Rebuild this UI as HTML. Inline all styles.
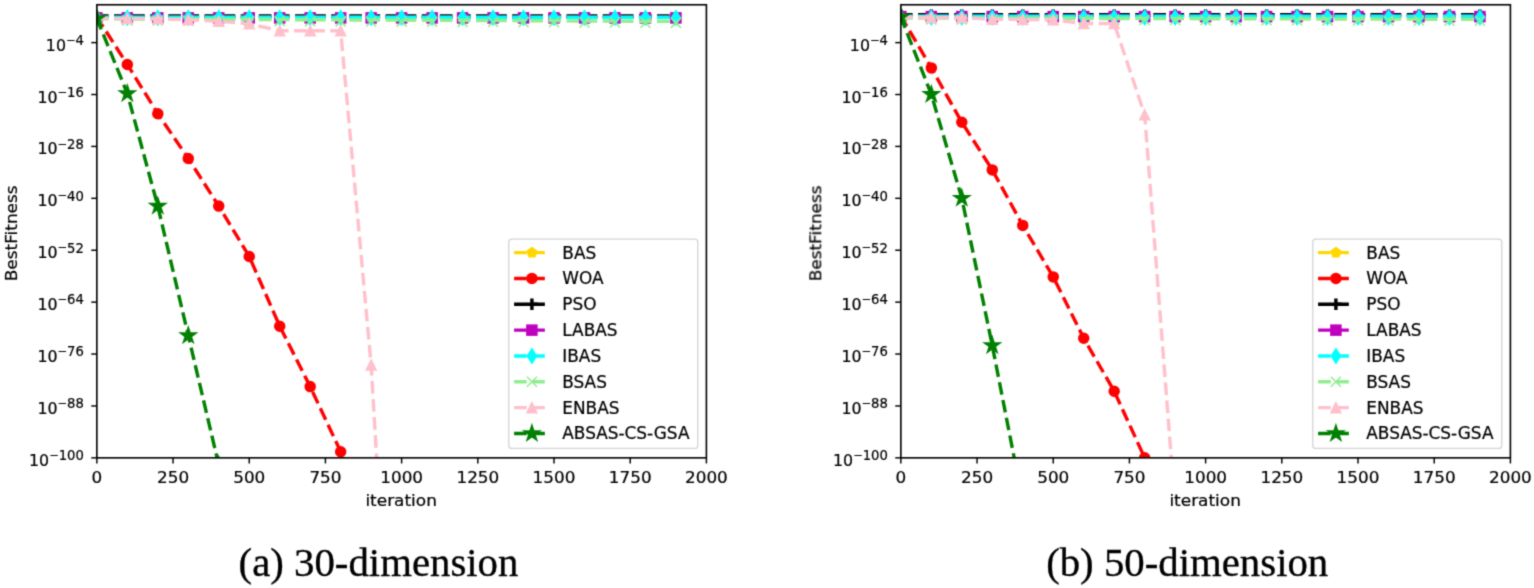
<!DOCTYPE html>
<html><head><meta charset="utf-8"><title>BestFitness convergence</title>
<style>html,body{margin:0;padding:0;background:#fff;} svg{display:block;} .t{stroke:#000;stroke-width:0.22px;} .c{stroke:#000;stroke-width:0.35px;}</style></head>
<body>
<svg width="1534" height="588" viewBox="0 0 1534 588">
<defs><filter id="soft" filterUnits="userSpaceOnUse" x="0" y="0" width="1534" height="588" color-interpolation-filters="sRGB"><feConvolveMatrix order="3" kernelMatrix="1 4 1 4 16 4 1 4 1" edgeMode="duplicate"/></filter></defs>
<rect width="1534" height="588" fill="#fff"/>
<g filter="url(#soft)">
<clipPath id="clipL"><rect x="96.85" y="4.76" width="609.55" height="453.09"/></clipPath>
<g clip-path="url(#clipL)">
<polyline points="96.85,17.40 127.33,17.40 157.80,17.40 188.28,17.40 218.76,17.40 249.24,17.40 279.72,17.40 310.19,17.40 340.67,17.40 371.15,17.40 401.62,17.40 432.10,17.40 462.58,17.40 493.06,17.40 523.53,17.40 554.01,17.40 584.49,17.40 614.97,17.40 645.45,17.40 675.92,17.40" fill="none" stroke="#FFD700" stroke-width="3.415" stroke-dasharray="12.64 5.46" stroke-dashoffset="0.9" stroke-linejoin="round"/>
<polygon points="96.85,12.80 101.61,16.25 99.79,21.85 93.91,21.85 92.09,16.25" fill="#FFD700" stroke="#FFD700" stroke-width="1.5" stroke-linejoin="miter"/>
<polygon points="127.33,12.80 132.08,16.25 130.27,21.85 124.39,21.85 122.57,16.25" fill="#FFD700" stroke="#FFD700" stroke-width="1.5" stroke-linejoin="miter"/>
<polygon points="157.80,12.80 162.56,16.25 160.74,21.85 154.87,21.85 153.05,16.25" fill="#FFD700" stroke="#FFD700" stroke-width="1.5" stroke-linejoin="miter"/>
<polygon points="188.28,12.80 193.04,16.25 191.22,21.85 185.34,21.85 183.53,16.25" fill="#FFD700" stroke="#FFD700" stroke-width="1.5" stroke-linejoin="miter"/>
<polygon points="218.76,12.80 223.52,16.25 221.70,21.85 215.82,21.85 214.00,16.25" fill="#FFD700" stroke="#FFD700" stroke-width="1.5" stroke-linejoin="miter"/>
<polygon points="249.24,12.80 253.99,16.25 252.18,21.85 246.30,21.85 244.48,16.25" fill="#FFD700" stroke="#FFD700" stroke-width="1.5" stroke-linejoin="miter"/>
<polygon points="279.72,12.80 284.47,16.25 282.65,21.85 276.78,21.85 274.96,16.25" fill="#FFD700" stroke="#FFD700" stroke-width="1.5" stroke-linejoin="miter"/>
<polygon points="310.19,12.80 314.95,16.25 313.13,21.85 307.25,21.85 305.44,16.25" fill="#FFD700" stroke="#FFD700" stroke-width="1.5" stroke-linejoin="miter"/>
<polygon points="340.67,12.80 345.43,16.25 343.61,21.85 337.73,21.85 335.91,16.25" fill="#FFD700" stroke="#FFD700" stroke-width="1.5" stroke-linejoin="miter"/>
<polygon points="371.15,12.80 375.90,16.25 374.09,21.85 368.21,21.85 366.39,16.25" fill="#FFD700" stroke="#FFD700" stroke-width="1.5" stroke-linejoin="miter"/>
<polygon points="401.62,12.80 406.38,16.25 404.56,21.85 398.69,21.85 396.87,16.25" fill="#FFD700" stroke="#FFD700" stroke-width="1.5" stroke-linejoin="miter"/>
<polygon points="432.10,12.80 436.86,16.25 435.04,21.85 429.16,21.85 427.35,16.25" fill="#FFD700" stroke="#FFD700" stroke-width="1.5" stroke-linejoin="miter"/>
<polygon points="462.58,12.80 467.34,16.25 465.52,21.85 459.64,21.85 457.82,16.25" fill="#FFD700" stroke="#FFD700" stroke-width="1.5" stroke-linejoin="miter"/>
<polygon points="493.06,12.80 497.81,16.25 496.00,21.85 490.12,21.85 488.30,16.25" fill="#FFD700" stroke="#FFD700" stroke-width="1.5" stroke-linejoin="miter"/>
<polygon points="523.53,12.80 528.29,16.25 526.47,21.85 520.60,21.85 518.78,16.25" fill="#FFD700" stroke="#FFD700" stroke-width="1.5" stroke-linejoin="miter"/>
<polygon points="554.01,12.80 558.77,16.25 556.95,21.85 551.07,21.85 549.26,16.25" fill="#FFD700" stroke="#FFD700" stroke-width="1.5" stroke-linejoin="miter"/>
<polygon points="584.49,12.80 589.25,16.25 587.43,21.85 581.55,21.85 579.73,16.25" fill="#FFD700" stroke="#FFD700" stroke-width="1.5" stroke-linejoin="miter"/>
<polygon points="614.97,12.80 619.72,16.25 617.91,21.85 612.03,21.85 610.21,16.25" fill="#FFD700" stroke="#FFD700" stroke-width="1.5" stroke-linejoin="miter"/>
<polygon points="645.45,12.80 650.20,16.25 648.38,21.85 642.51,21.85 640.69,16.25" fill="#FFD700" stroke="#FFD700" stroke-width="1.5" stroke-linejoin="miter"/>
<polygon points="675.92,12.80 680.68,16.25 678.86,21.85 672.98,21.85 671.17,16.25" fill="#FFD700" stroke="#FFD700" stroke-width="1.5" stroke-linejoin="miter"/>
<polyline points="96.85,17.00 127.33,64.50 157.80,113.70 188.28,158.50 218.76,206.10 249.24,256.50 279.72,326.20 310.19,386.60 340.67,451.70 371.15,520.00" fill="none" stroke="#FF0000" stroke-width="3.415" stroke-dasharray="12.64 5.46" stroke-dashoffset="0.9" stroke-linejoin="round"/>
<circle cx="96.85" cy="17.00" r="5.00" fill="#FF0000" stroke="#FF0000" stroke-width="1.5" stroke-linejoin="miter"/>
<circle cx="127.33" cy="64.50" r="5.00" fill="#FF0000" stroke="#FF0000" stroke-width="1.5" stroke-linejoin="miter"/>
<circle cx="157.80" cy="113.70" r="5.00" fill="#FF0000" stroke="#FF0000" stroke-width="1.5" stroke-linejoin="miter"/>
<circle cx="188.28" cy="158.50" r="5.00" fill="#FF0000" stroke="#FF0000" stroke-width="1.5" stroke-linejoin="miter"/>
<circle cx="218.76" cy="206.10" r="5.00" fill="#FF0000" stroke="#FF0000" stroke-width="1.5" stroke-linejoin="miter"/>
<circle cx="249.24" cy="256.50" r="5.00" fill="#FF0000" stroke="#FF0000" stroke-width="1.5" stroke-linejoin="miter"/>
<circle cx="279.72" cy="326.20" r="5.00" fill="#FF0000" stroke="#FF0000" stroke-width="1.5" stroke-linejoin="miter"/>
<circle cx="310.19" cy="386.60" r="5.00" fill="#FF0000" stroke="#FF0000" stroke-width="1.5" stroke-linejoin="miter"/>
<circle cx="340.67" cy="451.70" r="5.00" fill="#FF0000" stroke="#FF0000" stroke-width="1.5" stroke-linejoin="miter"/>
<circle cx="371.15" cy="520.00" r="5.00" fill="#FF0000" stroke="#FF0000" stroke-width="1.5" stroke-linejoin="miter"/>
<polyline points="96.85,15.90 127.33,15.90 157.80,15.90 188.28,15.90 218.76,15.90 249.24,15.90 279.72,15.90 310.19,15.90 340.67,15.90 371.15,15.90 401.62,15.90 432.10,15.90 462.58,15.90 493.06,15.90 523.53,15.90 554.01,15.90 584.49,15.90 614.97,15.90 645.45,15.90 675.92,15.90" fill="none" stroke="#000000" stroke-width="3.415" stroke-dasharray="12.64 5.46" stroke-dashoffset="0.9" stroke-linejoin="round"/>
<polyline points="96.85,17.40 127.33,17.40 157.80,17.40 188.28,17.40 218.76,17.40 249.24,17.40 279.72,17.40 310.19,17.40 340.67,17.40 371.15,17.40 401.62,17.40 432.10,17.40 462.58,17.40 493.06,17.40 523.53,17.40 554.01,17.40 584.49,17.40 614.97,17.40 645.45,17.40 675.92,17.40" fill="none" stroke="#BF00BF" stroke-width="3.415" stroke-dasharray="12.64 5.46" stroke-dashoffset="0.9" stroke-linejoin="round"/>
<rect x="91.85" y="12.90" width="10.00" height="10.00" fill="#BF00BF" stroke="#BF00BF" stroke-width="1.5" stroke-linejoin="miter"/>
<rect x="122.33" y="12.90" width="10.00" height="10.00" fill="#BF00BF" stroke="#BF00BF" stroke-width="1.5" stroke-linejoin="miter"/>
<rect x="152.80" y="12.90" width="10.00" height="10.00" fill="#BF00BF" stroke="#BF00BF" stroke-width="1.5" stroke-linejoin="miter"/>
<rect x="183.28" y="12.90" width="10.00" height="10.00" fill="#BF00BF" stroke="#BF00BF" stroke-width="1.5" stroke-linejoin="miter"/>
<rect x="213.76" y="12.90" width="10.00" height="10.00" fill="#BF00BF" stroke="#BF00BF" stroke-width="1.5" stroke-linejoin="miter"/>
<rect x="244.24" y="12.90" width="10.00" height="10.00" fill="#BF00BF" stroke="#BF00BF" stroke-width="1.5" stroke-linejoin="miter"/>
<rect x="274.72" y="12.90" width="10.00" height="10.00" fill="#BF00BF" stroke="#BF00BF" stroke-width="1.5" stroke-linejoin="miter"/>
<rect x="305.19" y="12.90" width="10.00" height="10.00" fill="#BF00BF" stroke="#BF00BF" stroke-width="1.5" stroke-linejoin="miter"/>
<rect x="335.67" y="12.90" width="10.00" height="10.00" fill="#BF00BF" stroke="#BF00BF" stroke-width="1.5" stroke-linejoin="miter"/>
<rect x="366.15" y="12.90" width="10.00" height="10.00" fill="#BF00BF" stroke="#BF00BF" stroke-width="1.5" stroke-linejoin="miter"/>
<rect x="396.62" y="12.90" width="10.00" height="10.00" fill="#BF00BF" stroke="#BF00BF" stroke-width="1.5" stroke-linejoin="miter"/>
<rect x="427.10" y="12.90" width="10.00" height="10.00" fill="#BF00BF" stroke="#BF00BF" stroke-width="1.5" stroke-linejoin="miter"/>
<rect x="457.58" y="12.90" width="10.00" height="10.00" fill="#BF00BF" stroke="#BF00BF" stroke-width="1.5" stroke-linejoin="miter"/>
<rect x="488.06" y="12.90" width="10.00" height="10.00" fill="#BF00BF" stroke="#BF00BF" stroke-width="1.5" stroke-linejoin="miter"/>
<rect x="518.53" y="12.90" width="10.00" height="10.00" fill="#BF00BF" stroke="#BF00BF" stroke-width="1.5" stroke-linejoin="miter"/>
<rect x="549.01" y="12.90" width="10.00" height="10.00" fill="#BF00BF" stroke="#BF00BF" stroke-width="1.5" stroke-linejoin="miter"/>
<rect x="579.49" y="12.90" width="10.00" height="10.00" fill="#BF00BF" stroke="#BF00BF" stroke-width="1.5" stroke-linejoin="miter"/>
<rect x="609.97" y="12.90" width="10.00" height="10.00" fill="#BF00BF" stroke="#BF00BF" stroke-width="1.5" stroke-linejoin="miter"/>
<rect x="640.45" y="12.90" width="10.00" height="10.00" fill="#BF00BF" stroke="#BF00BF" stroke-width="1.5" stroke-linejoin="miter"/>
<rect x="670.92" y="12.90" width="10.00" height="10.00" fill="#BF00BF" stroke="#BF00BF" stroke-width="1.5" stroke-linejoin="miter"/>
<polyline points="96.85,17.30 127.33,17.30 157.80,17.30 188.28,17.30 218.76,17.30 249.24,17.30 279.72,17.30 310.19,17.30 340.67,17.30 371.15,17.30 401.62,17.30 432.10,17.30 462.58,17.30 493.06,17.30 523.53,17.30 554.01,17.30 584.49,17.30 614.97,17.30 645.45,17.30 675.92,17.30" fill="none" stroke="#00FFFF" stroke-width="3.415" stroke-dasharray="12.64 5.46" stroke-dashoffset="0.9" stroke-linejoin="round"/>
<polygon points="96.85,10.63 101.45,17.70 96.85,24.77 92.25,17.70" fill="#00FFFF" stroke="#00FFFF" stroke-width="1.5" stroke-linejoin="miter"/>
<polygon points="127.33,10.63 131.92,17.70 127.33,24.77 122.73,17.70" fill="#00FFFF" stroke="#00FFFF" stroke-width="1.5" stroke-linejoin="miter"/>
<polygon points="157.80,10.63 162.40,17.70 157.80,24.77 153.21,17.70" fill="#00FFFF" stroke="#00FFFF" stroke-width="1.5" stroke-linejoin="miter"/>
<polygon points="188.28,10.63 192.88,17.70 188.28,24.77 183.69,17.70" fill="#00FFFF" stroke="#00FFFF" stroke-width="1.5" stroke-linejoin="miter"/>
<polygon points="218.76,10.63 223.36,17.70 218.76,24.77 214.16,17.70" fill="#00FFFF" stroke="#00FFFF" stroke-width="1.5" stroke-linejoin="miter"/>
<polygon points="249.24,10.63 253.83,17.70 249.24,24.77 244.64,17.70" fill="#00FFFF" stroke="#00FFFF" stroke-width="1.5" stroke-linejoin="miter"/>
<polygon points="279.72,10.63 284.31,17.70 279.72,24.77 275.12,17.70" fill="#00FFFF" stroke="#00FFFF" stroke-width="1.5" stroke-linejoin="miter"/>
<polygon points="310.19,10.63 314.79,17.70 310.19,24.77 305.60,17.70" fill="#00FFFF" stroke="#00FFFF" stroke-width="1.5" stroke-linejoin="miter"/>
<polygon points="340.67,10.63 345.27,17.70 340.67,24.77 336.07,17.70" fill="#00FFFF" stroke="#00FFFF" stroke-width="1.5" stroke-linejoin="miter"/>
<polygon points="371.15,10.63 375.74,17.70 371.15,24.77 366.55,17.70" fill="#00FFFF" stroke="#00FFFF" stroke-width="1.5" stroke-linejoin="miter"/>
<polygon points="401.62,10.63 406.22,17.70 401.62,24.77 397.03,17.70" fill="#00FFFF" stroke="#00FFFF" stroke-width="1.5" stroke-linejoin="miter"/>
<polygon points="432.10,10.63 436.70,17.70 432.10,24.77 427.51,17.70" fill="#00FFFF" stroke="#00FFFF" stroke-width="1.5" stroke-linejoin="miter"/>
<polygon points="462.58,10.63 467.18,17.70 462.58,24.77 457.98,17.70" fill="#00FFFF" stroke="#00FFFF" stroke-width="1.5" stroke-linejoin="miter"/>
<polygon points="493.06,10.63 497.65,17.70 493.06,24.77 488.46,17.70" fill="#00FFFF" stroke="#00FFFF" stroke-width="1.5" stroke-linejoin="miter"/>
<polygon points="523.53,10.63 528.13,17.70 523.53,24.77 518.94,17.70" fill="#00FFFF" stroke="#00FFFF" stroke-width="1.5" stroke-linejoin="miter"/>
<polygon points="554.01,10.63 558.61,17.70 554.01,24.77 549.42,17.70" fill="#00FFFF" stroke="#00FFFF" stroke-width="1.5" stroke-linejoin="miter"/>
<polygon points="584.49,10.63 589.09,17.70 584.49,24.77 579.89,17.70" fill="#00FFFF" stroke="#00FFFF" stroke-width="1.5" stroke-linejoin="miter"/>
<polygon points="614.97,10.63 619.56,17.70 614.97,24.77 610.37,17.70" fill="#00FFFF" stroke="#00FFFF" stroke-width="1.5" stroke-linejoin="miter"/>
<polygon points="645.45,10.63 650.04,17.70 645.45,24.77 640.85,17.70" fill="#00FFFF" stroke="#00FFFF" stroke-width="1.5" stroke-linejoin="miter"/>
<polygon points="675.92,10.63 680.52,17.70 675.92,24.77 671.33,17.70" fill="#00FFFF" stroke="#00FFFF" stroke-width="1.5" stroke-linejoin="miter"/>
<polyline points="96.85,18.80 127.33,18.94 157.80,19.07 188.28,19.21 218.76,19.34 249.24,19.48 279.72,19.61 310.19,19.75 340.67,19.88 371.15,20.02 401.62,20.15 432.10,20.29 462.58,20.42 493.06,20.55 523.53,20.69 554.01,20.82 584.49,20.96 614.97,21.09 645.45,21.23 675.92,21.37" fill="none" stroke="#90EE90" stroke-width="3.415" stroke-dasharray="12.64 5.46" stroke-dashoffset="0.9" stroke-linejoin="round"/>
<path d="M91.85,15.30L101.85,25.30M91.85,25.30L101.85,15.30" stroke="#90EE90" stroke-width="1.5" fill="none"/>
<path d="M122.33,15.44L132.33,25.44M122.33,25.44L132.33,15.44" stroke="#90EE90" stroke-width="1.5" fill="none"/>
<path d="M152.80,15.57L162.80,25.57M152.80,25.57L162.80,15.57" stroke="#90EE90" stroke-width="1.5" fill="none"/>
<path d="M183.28,15.71L193.28,25.71M183.28,25.71L193.28,15.71" stroke="#90EE90" stroke-width="1.5" fill="none"/>
<path d="M213.76,15.84L223.76,25.84M213.76,25.84L223.76,15.84" stroke="#90EE90" stroke-width="1.5" fill="none"/>
<path d="M244.24,15.98L254.24,25.98M244.24,25.98L254.24,15.98" stroke="#90EE90" stroke-width="1.5" fill="none"/>
<path d="M274.72,16.11L284.72,26.11M274.72,26.11L284.72,16.11" stroke="#90EE90" stroke-width="1.5" fill="none"/>
<path d="M305.19,16.25L315.19,26.25M305.19,26.25L315.19,16.25" stroke="#90EE90" stroke-width="1.5" fill="none"/>
<path d="M335.67,16.38L345.67,26.38M335.67,26.38L345.67,16.38" stroke="#90EE90" stroke-width="1.5" fill="none"/>
<path d="M366.15,16.52L376.15,26.52M366.15,26.52L376.15,16.52" stroke="#90EE90" stroke-width="1.5" fill="none"/>
<path d="M396.62,16.65L406.62,26.65M396.62,26.65L406.62,16.65" stroke="#90EE90" stroke-width="1.5" fill="none"/>
<path d="M427.10,16.79L437.10,26.79M427.10,26.79L437.10,16.79" stroke="#90EE90" stroke-width="1.5" fill="none"/>
<path d="M457.58,16.92L467.58,26.92M457.58,26.92L467.58,16.92" stroke="#90EE90" stroke-width="1.5" fill="none"/>
<path d="M488.06,17.05L498.06,27.05M488.06,27.05L498.06,17.05" stroke="#90EE90" stroke-width="1.5" fill="none"/>
<path d="M518.53,17.19L528.53,27.19M518.53,27.19L528.53,17.19" stroke="#90EE90" stroke-width="1.5" fill="none"/>
<path d="M549.01,17.32L559.01,27.32M549.01,27.32L559.01,17.32" stroke="#90EE90" stroke-width="1.5" fill="none"/>
<path d="M579.49,17.46L589.49,27.46M579.49,27.46L589.49,17.46" stroke="#90EE90" stroke-width="1.5" fill="none"/>
<path d="M609.97,17.59L619.97,27.59M609.97,27.59L619.97,17.59" stroke="#90EE90" stroke-width="1.5" fill="none"/>
<path d="M640.45,17.73L650.45,27.73M640.45,27.73L650.45,17.73" stroke="#90EE90" stroke-width="1.5" fill="none"/>
<path d="M670.92,17.87L680.92,27.87M670.92,27.87L680.92,17.87" stroke="#90EE90" stroke-width="1.5" fill="none"/>
<polyline points="96.85,18.30 127.33,18.50 157.80,18.80 188.28,19.80 218.76,21.30 249.24,23.70 279.72,30.80 310.19,30.80 340.67,30.80 371.15,365.00 401.62,882.00" fill="none" stroke="#FFC0CB" stroke-width="3.415" stroke-dasharray="12.64 5.46" stroke-dashoffset="0.9" stroke-linejoin="round"/>
<polygon points="96.85,13.30 91.85,23.30 101.85,23.30" fill="#FFC0CB" stroke="#FFC0CB" stroke-width="1.5" stroke-linejoin="miter"/>
<polygon points="127.33,13.50 122.33,23.50 132.33,23.50" fill="#FFC0CB" stroke="#FFC0CB" stroke-width="1.5" stroke-linejoin="miter"/>
<polygon points="157.80,13.80 152.80,23.80 162.80,23.80" fill="#FFC0CB" stroke="#FFC0CB" stroke-width="1.5" stroke-linejoin="miter"/>
<polygon points="188.28,14.80 183.28,24.80 193.28,24.80" fill="#FFC0CB" stroke="#FFC0CB" stroke-width="1.5" stroke-linejoin="miter"/>
<polygon points="218.76,16.30 213.76,26.30 223.76,26.30" fill="#FFC0CB" stroke="#FFC0CB" stroke-width="1.5" stroke-linejoin="miter"/>
<polygon points="249.24,18.70 244.24,28.70 254.24,28.70" fill="#FFC0CB" stroke="#FFC0CB" stroke-width="1.5" stroke-linejoin="miter"/>
<polygon points="279.72,25.80 274.72,35.80 284.72,35.80" fill="#FFC0CB" stroke="#FFC0CB" stroke-width="1.5" stroke-linejoin="miter"/>
<polygon points="310.19,25.80 305.19,35.80 315.19,35.80" fill="#FFC0CB" stroke="#FFC0CB" stroke-width="1.5" stroke-linejoin="miter"/>
<polygon points="340.67,25.80 335.67,35.80 345.67,35.80" fill="#FFC0CB" stroke="#FFC0CB" stroke-width="1.5" stroke-linejoin="miter"/>
<polygon points="371.15,360.00 366.15,370.00 376.15,370.00" fill="#FFC0CB" stroke="#FFC0CB" stroke-width="1.5" stroke-linejoin="miter"/>
<polygon points="401.62,877.00 396.62,887.00 406.62,887.00" fill="#FFC0CB" stroke="#FFC0CB" stroke-width="1.5" stroke-linejoin="miter"/>
<polyline points="96.85,18.50 127.33,93.60 157.80,206.10 188.28,335.60 218.76,465.00" fill="none" stroke="#008000" stroke-width="3.415" stroke-dasharray="12.64 5.46" stroke-dashoffset="0.9" stroke-linejoin="round"/>
<polygon points="96.85,10.25 98.70,15.95 104.70,15.95 99.85,19.47 101.70,25.17 96.85,21.65 92.00,25.17 93.85,19.47 89.00,15.95 95.00,15.95" fill="#008000" stroke="#008000" stroke-width="1.5" stroke-linejoin="miter"/>
<polygon points="127.33,85.35 129.18,91.05 135.17,91.05 130.32,94.57 132.18,100.27 127.33,96.75 122.48,100.27 124.33,94.57 119.48,91.05 125.48,91.05" fill="#008000" stroke="#008000" stroke-width="1.5" stroke-linejoin="miter"/>
<polygon points="157.80,197.85 159.66,203.55 165.65,203.55 160.80,207.07 162.65,212.77 157.80,209.25 152.96,212.77 154.81,207.07 149.96,203.55 155.95,203.55" fill="#008000" stroke="#008000" stroke-width="1.5" stroke-linejoin="miter"/>
<polygon points="188.28,327.35 190.13,333.05 196.13,333.05 191.28,336.57 193.13,342.27 188.28,338.75 183.43,342.27 185.29,336.57 180.44,333.05 186.43,333.05" fill="#008000" stroke="#008000" stroke-width="1.5" stroke-linejoin="miter"/>
<polygon points="218.76,456.75 220.61,462.45 226.61,462.45 221.76,465.97 223.61,471.67 218.76,468.15 213.91,471.67 215.76,465.97 210.91,462.45 216.91,462.45" fill="#008000" stroke="#008000" stroke-width="1.5" stroke-linejoin="miter"/>
</g>
<rect x="96.85" y="4.76" width="609.55" height="453.09" fill="none" stroke="#000" stroke-width="1.6"/>
<line x1="96.85" y1="457.85" x2="96.85" y2="463.45" stroke="#000" stroke-width="1.45"/>
<text transform="translate(96.85,482.7) scale(1.065,1)" text-anchor="middle" class="t" font-family="'DejaVu Sans', 'Liberation Sans', sans-serif" font-size="15.8">0</text>
<line x1="173.04" y1="457.85" x2="173.04" y2="463.45" stroke="#000" stroke-width="1.45"/>
<text transform="translate(173.04,482.7) scale(1.065,1)" text-anchor="middle" class="t" font-family="'DejaVu Sans', 'Liberation Sans', sans-serif" font-size="15.8">250</text>
<line x1="249.24" y1="457.85" x2="249.24" y2="463.45" stroke="#000" stroke-width="1.45"/>
<text transform="translate(249.24,482.7) scale(1.065,1)" text-anchor="middle" class="t" font-family="'DejaVu Sans', 'Liberation Sans', sans-serif" font-size="15.8">500</text>
<line x1="325.43" y1="457.85" x2="325.43" y2="463.45" stroke="#000" stroke-width="1.45"/>
<text transform="translate(325.43,482.7) scale(1.065,1)" text-anchor="middle" class="t" font-family="'DejaVu Sans', 'Liberation Sans', sans-serif" font-size="15.8">750</text>
<line x1="401.62" y1="457.85" x2="401.62" y2="463.45" stroke="#000" stroke-width="1.45"/>
<text transform="translate(401.62,482.7) scale(1.065,1)" text-anchor="middle" class="t" font-family="'DejaVu Sans', 'Liberation Sans', sans-serif" font-size="15.8">1000</text>
<line x1="477.82" y1="457.85" x2="477.82" y2="463.45" stroke="#000" stroke-width="1.45"/>
<text transform="translate(477.82,482.7) scale(1.065,1)" text-anchor="middle" class="t" font-family="'DejaVu Sans', 'Liberation Sans', sans-serif" font-size="15.8">1250</text>
<line x1="554.01" y1="457.85" x2="554.01" y2="463.45" stroke="#000" stroke-width="1.45"/>
<text transform="translate(554.01,482.7) scale(1.065,1)" text-anchor="middle" class="t" font-family="'DejaVu Sans', 'Liberation Sans', sans-serif" font-size="15.8">1500</text>
<line x1="630.21" y1="457.85" x2="630.21" y2="463.45" stroke="#000" stroke-width="1.45"/>
<text transform="translate(630.21,482.7) scale(1.065,1)" text-anchor="middle" class="t" font-family="'DejaVu Sans', 'Liberation Sans', sans-serif" font-size="15.8">1750</text>
<line x1="706.40" y1="457.85" x2="706.40" y2="463.45" stroke="#000" stroke-width="1.45"/>
<text transform="translate(706.40,482.7) scale(1.065,1)" text-anchor="middle" class="t" font-family="'DejaVu Sans', 'Liberation Sans', sans-serif" font-size="15.8">2000</text>
<line x1="91.25" y1="42.62" x2="96.85" y2="42.62" stroke="#000" stroke-width="1.45"/>
<text x="65.97" y="50.62" text-anchor="end" class="t" font-family="'DejaVu Sans', 'Liberation Sans', sans-serif" font-size="15.8">10</text><text x="66.19" y="43.71" class="t" font-family="'DejaVu Sans', 'Liberation Sans', sans-serif" font-size="11.4">−</text><text x="83.81" y="44.92" text-anchor="end" class="t" font-family="'DejaVu Sans', 'Liberation Sans', sans-serif" font-size="13.2">4</text>
<line x1="91.25" y1="94.52" x2="96.85" y2="94.52" stroke="#000" stroke-width="1.45"/>
<text x="57.57" y="102.52" text-anchor="end" class="t" font-family="'DejaVu Sans', 'Liberation Sans', sans-serif" font-size="15.8">10</text><text x="57.80" y="95.61" class="t" font-family="'DejaVu Sans', 'Liberation Sans', sans-serif" font-size="11.4">−</text><text x="83.81" y="96.82" text-anchor="end" class="t" font-family="'DejaVu Sans', 'Liberation Sans', sans-serif" font-size="13.2">16</text>
<line x1="91.25" y1="146.43" x2="96.85" y2="146.43" stroke="#000" stroke-width="1.45"/>
<text x="57.57" y="154.43" text-anchor="end" class="t" font-family="'DejaVu Sans', 'Liberation Sans', sans-serif" font-size="15.8">10</text><text x="57.80" y="147.51" class="t" font-family="'DejaVu Sans', 'Liberation Sans', sans-serif" font-size="11.4">−</text><text x="83.81" y="148.73" text-anchor="end" class="t" font-family="'DejaVu Sans', 'Liberation Sans', sans-serif" font-size="13.2">28</text>
<line x1="91.25" y1="198.33" x2="96.85" y2="198.33" stroke="#000" stroke-width="1.45"/>
<text x="57.57" y="206.33" text-anchor="end" class="t" font-family="'DejaVu Sans', 'Liberation Sans', sans-serif" font-size="15.8">10</text><text x="57.80" y="199.42" class="t" font-family="'DejaVu Sans', 'Liberation Sans', sans-serif" font-size="11.4">−</text><text x="83.81" y="200.63" text-anchor="end" class="t" font-family="'DejaVu Sans', 'Liberation Sans', sans-serif" font-size="13.2">40</text>
<line x1="91.25" y1="250.24" x2="96.85" y2="250.24" stroke="#000" stroke-width="1.45"/>
<text x="57.57" y="258.24" text-anchor="end" class="t" font-family="'DejaVu Sans', 'Liberation Sans', sans-serif" font-size="15.8">10</text><text x="57.80" y="251.32" class="t" font-family="'DejaVu Sans', 'Liberation Sans', sans-serif" font-size="11.4">−</text><text x="83.81" y="252.54" text-anchor="end" class="t" font-family="'DejaVu Sans', 'Liberation Sans', sans-serif" font-size="13.2">52</text>
<line x1="91.25" y1="302.14" x2="96.85" y2="302.14" stroke="#000" stroke-width="1.45"/>
<text x="57.57" y="310.14" text-anchor="end" class="t" font-family="'DejaVu Sans', 'Liberation Sans', sans-serif" font-size="15.8">10</text><text x="57.80" y="303.22" class="t" font-family="'DejaVu Sans', 'Liberation Sans', sans-serif" font-size="11.4">−</text><text x="83.81" y="304.44" text-anchor="end" class="t" font-family="'DejaVu Sans', 'Liberation Sans', sans-serif" font-size="13.2">64</text>
<line x1="91.25" y1="354.04" x2="96.85" y2="354.04" stroke="#000" stroke-width="1.45"/>
<text x="57.57" y="362.04" text-anchor="end" class="t" font-family="'DejaVu Sans', 'Liberation Sans', sans-serif" font-size="15.8">10</text><text x="57.80" y="355.13" class="t" font-family="'DejaVu Sans', 'Liberation Sans', sans-serif" font-size="11.4">−</text><text x="83.81" y="356.34" text-anchor="end" class="t" font-family="'DejaVu Sans', 'Liberation Sans', sans-serif" font-size="13.2">76</text>
<line x1="91.25" y1="405.95" x2="96.85" y2="405.95" stroke="#000" stroke-width="1.45"/>
<text x="57.57" y="413.95" text-anchor="end" class="t" font-family="'DejaVu Sans', 'Liberation Sans', sans-serif" font-size="15.8">10</text><text x="57.80" y="407.03" class="t" font-family="'DejaVu Sans', 'Liberation Sans', sans-serif" font-size="11.4">−</text><text x="83.81" y="408.25" text-anchor="end" class="t" font-family="'DejaVu Sans', 'Liberation Sans', sans-serif" font-size="13.2">88</text>
<line x1="91.25" y1="457.85" x2="96.85" y2="457.85" stroke="#000" stroke-width="1.45"/>
<text x="49.18" y="465.85" text-anchor="end" class="t" font-family="'DejaVu Sans', 'Liberation Sans', sans-serif" font-size="15.8">10</text><text x="49.40" y="458.93" class="t" font-family="'DejaVu Sans', 'Liberation Sans', sans-serif" font-size="11.4">−</text><text x="83.81" y="460.15" text-anchor="end" class="t" font-family="'DejaVu Sans', 'Liberation Sans', sans-serif" font-size="13.2">100</text>
<text transform="translate(401.12,506.4) scale(1.02,1)" text-anchor="middle" class="t" font-family="'DejaVu Sans', 'Liberation Sans', sans-serif" font-size="16.6">iteration</text>
<text transform="translate(17.30,233.31) rotate(-90) scale(1.03,1)" text-anchor="middle" class="t" font-family="'DejaVu Sans', 'Liberation Sans', sans-serif" font-size="16.4">BestFitness</text>
<rect x="508.80" y="239.10" width="189.00" height="209.30" rx="3" fill="#fff" stroke="#d4d4d4" stroke-width="1.3"/>
<line x1="514.10" y1="252.60" x2="545.20" y2="252.60" stroke="#FFD700" stroke-width="3.415" stroke-dasharray="12.64 5.46"/>
<polygon points="531.90,247.60 536.66,251.05 534.84,256.65 528.96,256.65 527.14,251.05" fill="#FFD700" stroke="#FFD700" stroke-width="1.5" stroke-linejoin="miter"/>
<text x="562.30" y="258.60" class="t" font-family="'DejaVu Sans', 'Liberation Sans', sans-serif" font-size="16.9">BAS</text>
<line x1="514.10" y1="278.44" x2="545.20" y2="278.44" stroke="#FF0000" stroke-width="3.415" stroke-dasharray="12.64 5.46"/>
<circle cx="531.90" cy="278.44" r="5.00" fill="#FF0000" stroke="#FF0000" stroke-width="1.5" stroke-linejoin="miter"/>
<text x="562.30" y="284.44" class="t" font-family="'DejaVu Sans', 'Liberation Sans', sans-serif" font-size="16.9">WOA</text>
<line x1="514.10" y1="304.28" x2="545.20" y2="304.28" stroke="#000000" stroke-width="3.415" stroke-dasharray="12.64 5.46"/>
<path d="M526.20,304.28H537.60M531.90,298.58V309.98" stroke="#000000" stroke-width="3.42" fill="none"/>
<text x="562.30" y="310.28" class="t" font-family="'DejaVu Sans', 'Liberation Sans', sans-serif" font-size="16.9">PSO</text>
<line x1="514.10" y1="330.12" x2="545.20" y2="330.12" stroke="#BF00BF" stroke-width="3.415" stroke-dasharray="12.64 5.46"/>
<rect x="526.90" y="325.12" width="10.00" height="10.00" fill="#BF00BF" stroke="#BF00BF" stroke-width="1.5" stroke-linejoin="miter"/>
<text x="562.30" y="336.12" class="t" font-family="'DejaVu Sans', 'Liberation Sans', sans-serif" font-size="16.9">LABAS</text>
<line x1="514.10" y1="355.96" x2="545.20" y2="355.96" stroke="#00FFFF" stroke-width="3.415" stroke-dasharray="12.64 5.46"/>
<polygon points="531.90,348.89 536.50,355.96 531.90,363.03 527.30,355.96" fill="#00FFFF" stroke="#00FFFF" stroke-width="1.5" stroke-linejoin="miter"/>
<text x="562.30" y="361.96" class="t" font-family="'DejaVu Sans', 'Liberation Sans', sans-serif" font-size="16.9">IBAS</text>
<line x1="514.10" y1="381.80" x2="545.20" y2="381.80" stroke="#90EE90" stroke-width="3.415" stroke-dasharray="12.64 5.46"/>
<path d="M526.90,376.80L536.90,386.80M526.90,386.80L536.90,376.80" stroke="#90EE90" stroke-width="1.5" fill="none"/>
<text x="562.30" y="387.80" class="t" font-family="'DejaVu Sans', 'Liberation Sans', sans-serif" font-size="16.9">BSAS</text>
<line x1="514.10" y1="407.64" x2="545.20" y2="407.64" stroke="#FFC0CB" stroke-width="3.415" stroke-dasharray="12.64 5.46"/>
<polygon points="531.90,402.64 526.90,412.64 536.90,412.64" fill="#FFC0CB" stroke="#FFC0CB" stroke-width="1.5" stroke-linejoin="miter"/>
<text x="562.30" y="413.64" class="t" font-family="'DejaVu Sans', 'Liberation Sans', sans-serif" font-size="16.9">ENBAS</text>
<line x1="514.10" y1="433.48" x2="545.20" y2="433.48" stroke="#008000" stroke-width="3.415" stroke-dasharray="12.64 5.46"/>
<polygon points="531.90,425.23 533.75,430.93 539.75,430.93 534.90,434.45 536.75,440.15 531.90,436.63 527.05,440.15 528.90,434.45 524.05,430.93 530.05,430.93" fill="#008000" stroke="#008000" stroke-width="1.5" stroke-linejoin="miter"/>
<text x="562.30" y="439.48" class="t" font-family="'DejaVu Sans', 'Liberation Sans', sans-serif" font-size="16.9">ABSAS-CS-GSA</text>
<clipPath id="clipR"><rect x="900.85" y="4.76" width="609.55" height="453.09"/></clipPath>
<g clip-path="url(#clipR)">
<polyline points="900.85,16.10 931.33,16.10 961.81,16.10 992.28,16.10 1022.76,16.10 1053.24,16.10 1083.72,16.10 1114.19,16.10 1144.67,16.10 1175.15,16.10 1205.62,16.10 1236.10,16.10 1266.58,16.10 1297.06,16.10 1327.53,16.10 1358.01,16.10 1388.49,16.10 1418.97,16.10 1449.45,16.10 1479.92,16.10" fill="none" stroke="#FFD700" stroke-width="3.415" stroke-dasharray="12.64 5.46" stroke-dashoffset="0.9" stroke-linejoin="round"/>
<polygon points="900.85,11.60 905.61,15.05 903.79,20.65 897.91,20.65 896.09,15.05" fill="#FFD700" stroke="#FFD700" stroke-width="1.5" stroke-linejoin="miter"/>
<polygon points="931.33,11.60 936.08,15.05 934.27,20.65 928.39,20.65 926.57,15.05" fill="#FFD700" stroke="#FFD700" stroke-width="1.5" stroke-linejoin="miter"/>
<polygon points="961.81,11.60 966.56,15.05 964.74,20.65 958.87,20.65 957.05,15.05" fill="#FFD700" stroke="#FFD700" stroke-width="1.5" stroke-linejoin="miter"/>
<polygon points="992.28,11.60 997.04,15.05 995.22,20.65 989.34,20.65 987.53,15.05" fill="#FFD700" stroke="#FFD700" stroke-width="1.5" stroke-linejoin="miter"/>
<polygon points="1022.76,11.60 1027.52,15.05 1025.70,20.65 1019.82,20.65 1018.00,15.05" fill="#FFD700" stroke="#FFD700" stroke-width="1.5" stroke-linejoin="miter"/>
<polygon points="1053.24,11.60 1057.99,15.05 1056.18,20.65 1050.30,20.65 1048.48,15.05" fill="#FFD700" stroke="#FFD700" stroke-width="1.5" stroke-linejoin="miter"/>
<polygon points="1083.72,11.60 1088.47,15.05 1086.65,20.65 1080.78,20.65 1078.96,15.05" fill="#FFD700" stroke="#FFD700" stroke-width="1.5" stroke-linejoin="miter"/>
<polygon points="1114.19,11.60 1118.95,15.05 1117.13,20.65 1111.25,20.65 1109.44,15.05" fill="#FFD700" stroke="#FFD700" stroke-width="1.5" stroke-linejoin="miter"/>
<polygon points="1144.67,11.60 1149.43,15.05 1147.61,20.65 1141.73,20.65 1139.91,15.05" fill="#FFD700" stroke="#FFD700" stroke-width="1.5" stroke-linejoin="miter"/>
<polygon points="1175.15,11.60 1179.90,15.05 1178.09,20.65 1172.21,20.65 1170.39,15.05" fill="#FFD700" stroke="#FFD700" stroke-width="1.5" stroke-linejoin="miter"/>
<polygon points="1205.62,11.60 1210.38,15.05 1208.56,20.65 1202.69,20.65 1200.87,15.05" fill="#FFD700" stroke="#FFD700" stroke-width="1.5" stroke-linejoin="miter"/>
<polygon points="1236.10,11.60 1240.86,15.05 1239.04,20.65 1233.16,20.65 1231.35,15.05" fill="#FFD700" stroke="#FFD700" stroke-width="1.5" stroke-linejoin="miter"/>
<polygon points="1266.58,11.60 1271.34,15.05 1269.52,20.65 1263.64,20.65 1261.82,15.05" fill="#FFD700" stroke="#FFD700" stroke-width="1.5" stroke-linejoin="miter"/>
<polygon points="1297.06,11.60 1301.81,15.05 1300.00,20.65 1294.12,20.65 1292.30,15.05" fill="#FFD700" stroke="#FFD700" stroke-width="1.5" stroke-linejoin="miter"/>
<polygon points="1327.53,11.60 1332.29,15.05 1330.47,20.65 1324.60,20.65 1322.78,15.05" fill="#FFD700" stroke="#FFD700" stroke-width="1.5" stroke-linejoin="miter"/>
<polygon points="1358.01,11.60 1362.77,15.05 1360.95,20.65 1355.07,20.65 1353.26,15.05" fill="#FFD700" stroke="#FFD700" stroke-width="1.5" stroke-linejoin="miter"/>
<polygon points="1388.49,11.60 1393.25,15.05 1391.43,20.65 1385.55,20.65 1383.73,15.05" fill="#FFD700" stroke="#FFD700" stroke-width="1.5" stroke-linejoin="miter"/>
<polygon points="1418.97,11.60 1423.72,15.05 1421.91,20.65 1416.03,20.65 1414.21,15.05" fill="#FFD700" stroke="#FFD700" stroke-width="1.5" stroke-linejoin="miter"/>
<polygon points="1449.45,11.60 1454.20,15.05 1452.38,20.65 1446.51,20.65 1444.69,15.05" fill="#FFD700" stroke="#FFD700" stroke-width="1.5" stroke-linejoin="miter"/>
<polygon points="1479.92,11.60 1484.68,15.05 1482.86,20.65 1476.98,20.65 1475.17,15.05" fill="#FFD700" stroke="#FFD700" stroke-width="1.5" stroke-linejoin="miter"/>
<polyline points="900.85,16.00 931.33,67.90 961.81,122.30 992.28,169.90 1022.76,225.40 1053.24,276.90 1083.72,338.20 1114.19,391.20 1144.67,457.80 1175.15,530.00" fill="none" stroke="#FF0000" stroke-width="3.415" stroke-dasharray="12.64 5.46" stroke-dashoffset="0.9" stroke-linejoin="round"/>
<circle cx="900.85" cy="16.00" r="5.00" fill="#FF0000" stroke="#FF0000" stroke-width="1.5" stroke-linejoin="miter"/>
<circle cx="931.33" cy="67.90" r="5.00" fill="#FF0000" stroke="#FF0000" stroke-width="1.5" stroke-linejoin="miter"/>
<circle cx="961.81" cy="122.30" r="5.00" fill="#FF0000" stroke="#FF0000" stroke-width="1.5" stroke-linejoin="miter"/>
<circle cx="992.28" cy="169.90" r="5.00" fill="#FF0000" stroke="#FF0000" stroke-width="1.5" stroke-linejoin="miter"/>
<circle cx="1022.76" cy="225.40" r="5.00" fill="#FF0000" stroke="#FF0000" stroke-width="1.5" stroke-linejoin="miter"/>
<circle cx="1053.24" cy="276.90" r="5.00" fill="#FF0000" stroke="#FF0000" stroke-width="1.5" stroke-linejoin="miter"/>
<circle cx="1083.72" cy="338.20" r="5.00" fill="#FF0000" stroke="#FF0000" stroke-width="1.5" stroke-linejoin="miter"/>
<circle cx="1114.19" cy="391.20" r="5.00" fill="#FF0000" stroke="#FF0000" stroke-width="1.5" stroke-linejoin="miter"/>
<circle cx="1144.67" cy="457.80" r="5.00" fill="#FF0000" stroke="#FF0000" stroke-width="1.5" stroke-linejoin="miter"/>
<circle cx="1175.15" cy="530.00" r="5.00" fill="#FF0000" stroke="#FF0000" stroke-width="1.5" stroke-linejoin="miter"/>
<polyline points="900.85,14.60 931.33,14.60 961.81,14.60 992.28,14.60 1022.76,14.60 1053.24,14.60 1083.72,14.60 1114.19,14.60 1144.67,14.60 1175.15,14.60 1205.62,14.60 1236.10,14.60 1266.58,14.60 1297.06,14.60 1327.53,14.60 1358.01,14.60 1388.49,14.60 1418.97,14.60 1449.45,14.60 1479.92,14.60" fill="none" stroke="#000000" stroke-width="3.415" stroke-dasharray="12.64 5.46" stroke-dashoffset="0.9" stroke-linejoin="round"/>
<path d="M895.15,15.20H906.55M900.85,9.50V20.90" stroke="#000000" stroke-width="3.42" fill="none"/>
<path d="M925.63,15.20H937.03M931.33,9.50V20.90" stroke="#000000" stroke-width="3.42" fill="none"/>
<path d="M956.11,15.20H967.51M961.81,9.50V20.90" stroke="#000000" stroke-width="3.42" fill="none"/>
<path d="M986.58,15.20H997.98M992.28,9.50V20.90" stroke="#000000" stroke-width="3.42" fill="none"/>
<path d="M1017.06,15.20H1028.46M1022.76,9.50V20.90" stroke="#000000" stroke-width="3.42" fill="none"/>
<path d="M1047.54,15.20H1058.94M1053.24,9.50V20.90" stroke="#000000" stroke-width="3.42" fill="none"/>
<path d="M1078.02,15.20H1089.42M1083.72,9.50V20.90" stroke="#000000" stroke-width="3.42" fill="none"/>
<path d="M1108.49,15.20H1119.89M1114.19,9.50V20.90" stroke="#000000" stroke-width="3.42" fill="none"/>
<path d="M1138.97,15.20H1150.37M1144.67,9.50V20.90" stroke="#000000" stroke-width="3.42" fill="none"/>
<path d="M1169.45,15.20H1180.85M1175.15,9.50V20.90" stroke="#000000" stroke-width="3.42" fill="none"/>
<path d="M1199.92,15.20H1211.33M1205.62,9.50V20.90" stroke="#000000" stroke-width="3.42" fill="none"/>
<path d="M1230.40,15.20H1241.80M1236.10,9.50V20.90" stroke="#000000" stroke-width="3.42" fill="none"/>
<path d="M1260.88,15.20H1272.28M1266.58,9.50V20.90" stroke="#000000" stroke-width="3.42" fill="none"/>
<path d="M1291.36,15.20H1302.76M1297.06,9.50V20.90" stroke="#000000" stroke-width="3.42" fill="none"/>
<path d="M1321.83,15.20H1333.23M1327.53,9.50V20.90" stroke="#000000" stroke-width="3.42" fill="none"/>
<path d="M1352.31,15.20H1363.71M1358.01,9.50V20.90" stroke="#000000" stroke-width="3.42" fill="none"/>
<path d="M1382.79,15.20H1394.19M1388.49,9.50V20.90" stroke="#000000" stroke-width="3.42" fill="none"/>
<path d="M1413.27,15.20H1424.67M1418.97,9.50V20.90" stroke="#000000" stroke-width="3.42" fill="none"/>
<path d="M1443.75,15.20H1455.15M1449.45,9.50V20.90" stroke="#000000" stroke-width="3.42" fill="none"/>
<path d="M1474.22,15.20H1485.62M1479.92,9.50V20.90" stroke="#000000" stroke-width="3.42" fill="none"/>
<polyline points="900.85,16.10 931.33,16.10 961.81,16.10 992.28,16.10 1022.76,16.10 1053.24,16.10 1083.72,16.10 1114.19,16.10 1144.67,16.10 1175.15,16.10 1205.62,16.10 1236.10,16.10 1266.58,16.10 1297.06,16.10 1327.53,16.10 1358.01,16.10 1388.49,16.10 1418.97,16.10 1449.45,16.10 1479.92,16.10" fill="none" stroke="#BF00BF" stroke-width="3.415" stroke-dasharray="12.64 5.46" stroke-dashoffset="0.9" stroke-linejoin="round"/>
<rect x="895.85" y="11.60" width="10.00" height="10.00" fill="#BF00BF" stroke="#BF00BF" stroke-width="1.5" stroke-linejoin="miter"/>
<rect x="926.33" y="11.60" width="10.00" height="10.00" fill="#BF00BF" stroke="#BF00BF" stroke-width="1.5" stroke-linejoin="miter"/>
<rect x="956.81" y="11.60" width="10.00" height="10.00" fill="#BF00BF" stroke="#BF00BF" stroke-width="1.5" stroke-linejoin="miter"/>
<rect x="987.28" y="11.60" width="10.00" height="10.00" fill="#BF00BF" stroke="#BF00BF" stroke-width="1.5" stroke-linejoin="miter"/>
<rect x="1017.76" y="11.60" width="10.00" height="10.00" fill="#BF00BF" stroke="#BF00BF" stroke-width="1.5" stroke-linejoin="miter"/>
<rect x="1048.24" y="11.60" width="10.00" height="10.00" fill="#BF00BF" stroke="#BF00BF" stroke-width="1.5" stroke-linejoin="miter"/>
<rect x="1078.72" y="11.60" width="10.00" height="10.00" fill="#BF00BF" stroke="#BF00BF" stroke-width="1.5" stroke-linejoin="miter"/>
<rect x="1109.19" y="11.60" width="10.00" height="10.00" fill="#BF00BF" stroke="#BF00BF" stroke-width="1.5" stroke-linejoin="miter"/>
<rect x="1139.67" y="11.60" width="10.00" height="10.00" fill="#BF00BF" stroke="#BF00BF" stroke-width="1.5" stroke-linejoin="miter"/>
<rect x="1170.15" y="11.60" width="10.00" height="10.00" fill="#BF00BF" stroke="#BF00BF" stroke-width="1.5" stroke-linejoin="miter"/>
<rect x="1200.62" y="11.60" width="10.00" height="10.00" fill="#BF00BF" stroke="#BF00BF" stroke-width="1.5" stroke-linejoin="miter"/>
<rect x="1231.10" y="11.60" width="10.00" height="10.00" fill="#BF00BF" stroke="#BF00BF" stroke-width="1.5" stroke-linejoin="miter"/>
<rect x="1261.58" y="11.60" width="10.00" height="10.00" fill="#BF00BF" stroke="#BF00BF" stroke-width="1.5" stroke-linejoin="miter"/>
<rect x="1292.06" y="11.60" width="10.00" height="10.00" fill="#BF00BF" stroke="#BF00BF" stroke-width="1.5" stroke-linejoin="miter"/>
<rect x="1322.53" y="11.60" width="10.00" height="10.00" fill="#BF00BF" stroke="#BF00BF" stroke-width="1.5" stroke-linejoin="miter"/>
<rect x="1353.01" y="11.60" width="10.00" height="10.00" fill="#BF00BF" stroke="#BF00BF" stroke-width="1.5" stroke-linejoin="miter"/>
<rect x="1383.49" y="11.60" width="10.00" height="10.00" fill="#BF00BF" stroke="#BF00BF" stroke-width="1.5" stroke-linejoin="miter"/>
<rect x="1413.97" y="11.60" width="10.00" height="10.00" fill="#BF00BF" stroke="#BF00BF" stroke-width="1.5" stroke-linejoin="miter"/>
<rect x="1444.45" y="11.60" width="10.00" height="10.00" fill="#BF00BF" stroke="#BF00BF" stroke-width="1.5" stroke-linejoin="miter"/>
<rect x="1474.92" y="11.60" width="10.00" height="10.00" fill="#BF00BF" stroke="#BF00BF" stroke-width="1.5" stroke-linejoin="miter"/>
<polyline points="900.85,16.10 931.33,16.10 961.81,16.10 992.28,16.10 1022.76,16.10 1053.24,16.10 1083.72,16.10 1114.19,16.10 1144.67,16.10 1175.15,16.10 1205.62,16.10 1236.10,16.10 1266.58,16.10 1297.06,16.10 1327.53,16.10 1358.01,16.10 1388.49,16.10 1418.97,16.10 1449.45,16.10 1479.92,16.10" fill="none" stroke="#00FFFF" stroke-width="3.415" stroke-dasharray="12.64 5.46" stroke-dashoffset="0.9" stroke-linejoin="round"/>
<polygon points="900.85,10.43 905.45,17.50 900.85,24.57 896.25,17.50" fill="#00FFFF" stroke="#00FFFF" stroke-width="1.5" stroke-linejoin="miter"/>
<polygon points="931.33,10.43 935.92,17.50 931.33,24.57 926.73,17.50" fill="#00FFFF" stroke="#00FFFF" stroke-width="1.5" stroke-linejoin="miter"/>
<polygon points="961.81,10.43 966.40,17.50 961.81,24.57 957.21,17.50" fill="#00FFFF" stroke="#00FFFF" stroke-width="1.5" stroke-linejoin="miter"/>
<polygon points="992.28,10.43 996.88,17.50 992.28,24.57 987.69,17.50" fill="#00FFFF" stroke="#00FFFF" stroke-width="1.5" stroke-linejoin="miter"/>
<polygon points="1022.76,10.43 1027.36,17.50 1022.76,24.57 1018.16,17.50" fill="#00FFFF" stroke="#00FFFF" stroke-width="1.5" stroke-linejoin="miter"/>
<polygon points="1053.24,10.43 1057.83,17.50 1053.24,24.57 1048.64,17.50" fill="#00FFFF" stroke="#00FFFF" stroke-width="1.5" stroke-linejoin="miter"/>
<polygon points="1083.72,10.43 1088.31,17.50 1083.72,24.57 1079.12,17.50" fill="#00FFFF" stroke="#00FFFF" stroke-width="1.5" stroke-linejoin="miter"/>
<polygon points="1114.19,10.43 1118.79,17.50 1114.19,24.57 1109.60,17.50" fill="#00FFFF" stroke="#00FFFF" stroke-width="1.5" stroke-linejoin="miter"/>
<polygon points="1144.67,10.43 1149.27,17.50 1144.67,24.57 1140.07,17.50" fill="#00FFFF" stroke="#00FFFF" stroke-width="1.5" stroke-linejoin="miter"/>
<polygon points="1175.15,10.43 1179.74,17.50 1175.15,24.57 1170.55,17.50" fill="#00FFFF" stroke="#00FFFF" stroke-width="1.5" stroke-linejoin="miter"/>
<polygon points="1205.62,10.43 1210.22,17.50 1205.62,24.57 1201.03,17.50" fill="#00FFFF" stroke="#00FFFF" stroke-width="1.5" stroke-linejoin="miter"/>
<polygon points="1236.10,10.43 1240.70,17.50 1236.10,24.57 1231.51,17.50" fill="#00FFFF" stroke="#00FFFF" stroke-width="1.5" stroke-linejoin="miter"/>
<polygon points="1266.58,10.43 1271.18,17.50 1266.58,24.57 1261.98,17.50" fill="#00FFFF" stroke="#00FFFF" stroke-width="1.5" stroke-linejoin="miter"/>
<polygon points="1297.06,10.43 1301.65,17.50 1297.06,24.57 1292.46,17.50" fill="#00FFFF" stroke="#00FFFF" stroke-width="1.5" stroke-linejoin="miter"/>
<polygon points="1327.53,10.43 1332.13,17.50 1327.53,24.57 1322.94,17.50" fill="#00FFFF" stroke="#00FFFF" stroke-width="1.5" stroke-linejoin="miter"/>
<polygon points="1358.01,10.43 1362.61,17.50 1358.01,24.57 1353.42,17.50" fill="#00FFFF" stroke="#00FFFF" stroke-width="1.5" stroke-linejoin="miter"/>
<polygon points="1388.49,10.43 1393.09,17.50 1388.49,24.57 1383.89,17.50" fill="#00FFFF" stroke="#00FFFF" stroke-width="1.5" stroke-linejoin="miter"/>
<polygon points="1418.97,10.43 1423.56,17.50 1418.97,24.57 1414.37,17.50" fill="#00FFFF" stroke="#00FFFF" stroke-width="1.5" stroke-linejoin="miter"/>
<polygon points="1449.45,10.43 1454.04,17.50 1449.45,24.57 1444.85,17.50" fill="#00FFFF" stroke="#00FFFF" stroke-width="1.5" stroke-linejoin="miter"/>
<polygon points="1479.92,10.43 1484.52,17.50 1479.92,24.57 1475.33,17.50" fill="#00FFFF" stroke="#00FFFF" stroke-width="1.5" stroke-linejoin="miter"/>
<polyline points="900.85,18.00 931.33,18.07 961.81,18.14 992.28,18.21 1022.76,18.28 1053.24,18.35 1083.72,18.42 1114.19,18.49 1144.67,18.56 1175.15,18.63 1205.62,18.70 1236.10,18.77 1266.58,18.84 1297.06,18.91 1327.53,18.98 1358.01,19.05 1388.49,19.12 1418.97,19.19 1449.45,19.26 1479.92,19.33" fill="none" stroke="#90EE90" stroke-width="3.415" stroke-dasharray="12.64 5.46" stroke-dashoffset="0.9" stroke-linejoin="round"/>
<path d="M895.85,14.40L905.85,24.40M895.85,24.40L905.85,14.40" stroke="#90EE90" stroke-width="1.5" fill="none"/>
<path d="M926.33,14.47L936.33,24.47M926.33,24.47L936.33,14.47" stroke="#90EE90" stroke-width="1.5" fill="none"/>
<path d="M956.81,14.54L966.81,24.54M956.81,24.54L966.81,14.54" stroke="#90EE90" stroke-width="1.5" fill="none"/>
<path d="M987.28,14.61L997.28,24.61M987.28,24.61L997.28,14.61" stroke="#90EE90" stroke-width="1.5" fill="none"/>
<path d="M1017.76,14.68L1027.76,24.68M1017.76,24.68L1027.76,14.68" stroke="#90EE90" stroke-width="1.5" fill="none"/>
<path d="M1048.24,14.75L1058.24,24.75M1048.24,24.75L1058.24,14.75" stroke="#90EE90" stroke-width="1.5" fill="none"/>
<path d="M1078.72,14.82L1088.72,24.82M1078.72,24.82L1088.72,14.82" stroke="#90EE90" stroke-width="1.5" fill="none"/>
<path d="M1109.19,14.89L1119.19,24.89M1109.19,24.89L1119.19,14.89" stroke="#90EE90" stroke-width="1.5" fill="none"/>
<path d="M1139.67,14.96L1149.67,24.96M1139.67,24.96L1149.67,14.96" stroke="#90EE90" stroke-width="1.5" fill="none"/>
<path d="M1170.15,15.03L1180.15,25.03M1170.15,25.03L1180.15,15.03" stroke="#90EE90" stroke-width="1.5" fill="none"/>
<path d="M1200.62,15.10L1210.62,25.10M1200.62,25.10L1210.62,15.10" stroke="#90EE90" stroke-width="1.5" fill="none"/>
<path d="M1231.10,15.17L1241.10,25.17M1231.10,25.17L1241.10,15.17" stroke="#90EE90" stroke-width="1.5" fill="none"/>
<path d="M1261.58,15.24L1271.58,25.24M1261.58,25.24L1271.58,15.24" stroke="#90EE90" stroke-width="1.5" fill="none"/>
<path d="M1292.06,15.31L1302.06,25.31M1292.06,25.31L1302.06,15.31" stroke="#90EE90" stroke-width="1.5" fill="none"/>
<path d="M1322.53,15.38L1332.53,25.38M1322.53,25.38L1332.53,15.38" stroke="#90EE90" stroke-width="1.5" fill="none"/>
<path d="M1353.01,15.45L1363.01,25.45M1353.01,25.45L1363.01,15.45" stroke="#90EE90" stroke-width="1.5" fill="none"/>
<path d="M1383.49,15.52L1393.49,25.52M1383.49,25.52L1393.49,15.52" stroke="#90EE90" stroke-width="1.5" fill="none"/>
<path d="M1413.97,15.59L1423.97,25.59M1413.97,25.59L1423.97,15.59" stroke="#90EE90" stroke-width="1.5" fill="none"/>
<path d="M1444.45,15.66L1454.45,25.66M1444.45,25.66L1454.45,15.66" stroke="#90EE90" stroke-width="1.5" fill="none"/>
<path d="M1474.92,15.73L1484.92,25.73M1474.92,25.73L1484.92,15.73" stroke="#90EE90" stroke-width="1.5" fill="none"/>
<polyline points="900.85,17.20 931.33,17.40 961.81,17.60 992.28,19.20 1022.76,19.40 1053.24,19.85 1083.72,23.50 1114.19,23.50 1144.67,114.80 1175.15,508.00" fill="none" stroke="#FFC0CB" stroke-width="3.415" stroke-dasharray="12.64 5.46" stroke-dashoffset="0.9" stroke-linejoin="round"/>
<polygon points="900.85,12.20 895.85,22.20 905.85,22.20" fill="#FFC0CB" stroke="#FFC0CB" stroke-width="1.5" stroke-linejoin="miter"/>
<polygon points="931.33,12.40 926.33,22.40 936.33,22.40" fill="#FFC0CB" stroke="#FFC0CB" stroke-width="1.5" stroke-linejoin="miter"/>
<polygon points="961.81,12.60 956.81,22.60 966.81,22.60" fill="#FFC0CB" stroke="#FFC0CB" stroke-width="1.5" stroke-linejoin="miter"/>
<polygon points="992.28,14.20 987.28,24.20 997.28,24.20" fill="#FFC0CB" stroke="#FFC0CB" stroke-width="1.5" stroke-linejoin="miter"/>
<polygon points="1022.76,14.40 1017.76,24.40 1027.76,24.40" fill="#FFC0CB" stroke="#FFC0CB" stroke-width="1.5" stroke-linejoin="miter"/>
<polygon points="1053.24,14.85 1048.24,24.85 1058.24,24.85" fill="#FFC0CB" stroke="#FFC0CB" stroke-width="1.5" stroke-linejoin="miter"/>
<polygon points="1083.72,18.50 1078.72,28.50 1088.72,28.50" fill="#FFC0CB" stroke="#FFC0CB" stroke-width="1.5" stroke-linejoin="miter"/>
<polygon points="1114.19,18.50 1109.19,28.50 1119.19,28.50" fill="#FFC0CB" stroke="#FFC0CB" stroke-width="1.5" stroke-linejoin="miter"/>
<polygon points="1144.67,109.80 1139.67,119.80 1149.67,119.80" fill="#FFC0CB" stroke="#FFC0CB" stroke-width="1.5" stroke-linejoin="miter"/>
<polygon points="1175.15,503.00 1170.15,513.00 1180.15,513.00" fill="#FFC0CB" stroke="#FFC0CB" stroke-width="1.5" stroke-linejoin="miter"/>
<polyline points="900.85,17.00 931.33,94.40 961.81,198.20 992.28,345.50 1022.76,501.70" fill="none" stroke="#008000" stroke-width="3.415" stroke-dasharray="12.64 5.46" stroke-dashoffset="0.9" stroke-linejoin="round"/>
<polygon points="900.85,8.75 902.70,14.45 908.70,14.45 903.85,17.97 905.70,23.67 900.85,20.15 896.00,23.67 897.85,17.97 893.00,14.45 899.00,14.45" fill="#008000" stroke="#008000" stroke-width="1.5" stroke-linejoin="miter"/>
<polygon points="931.33,86.15 933.18,91.85 939.17,91.85 934.32,95.37 936.18,101.07 931.33,97.55 926.48,101.07 928.33,95.37 923.48,91.85 929.48,91.85" fill="#008000" stroke="#008000" stroke-width="1.5" stroke-linejoin="miter"/>
<polygon points="961.81,189.95 963.66,195.65 969.65,195.65 964.80,199.17 966.65,204.87 961.81,201.35 956.96,204.87 958.81,199.17 953.96,195.65 959.95,195.65" fill="#008000" stroke="#008000" stroke-width="1.5" stroke-linejoin="miter"/>
<polygon points="992.28,337.25 994.13,342.95 1000.13,342.95 995.28,346.47 997.13,352.17 992.28,348.65 987.43,352.17 989.29,346.47 984.44,342.95 990.43,342.95" fill="#008000" stroke="#008000" stroke-width="1.5" stroke-linejoin="miter"/>
<polygon points="1022.76,493.45 1024.61,499.15 1030.61,499.15 1025.76,502.67 1027.61,508.37 1022.76,504.85 1017.91,508.37 1019.76,502.67 1014.91,499.15 1020.91,499.15" fill="#008000" stroke="#008000" stroke-width="1.5" stroke-linejoin="miter"/>
</g>
<rect x="900.85" y="4.76" width="609.55" height="453.09" fill="none" stroke="#000" stroke-width="1.6"/>
<line x1="900.85" y1="457.85" x2="900.85" y2="463.45" stroke="#000" stroke-width="1.45"/>
<text transform="translate(900.85,482.7) scale(1.065,1)" text-anchor="middle" class="t" font-family="'DejaVu Sans', 'Liberation Sans', sans-serif" font-size="15.8">0</text>
<line x1="977.04" y1="457.85" x2="977.04" y2="463.45" stroke="#000" stroke-width="1.45"/>
<text transform="translate(977.04,482.7) scale(1.065,1)" text-anchor="middle" class="t" font-family="'DejaVu Sans', 'Liberation Sans', sans-serif" font-size="15.8">250</text>
<line x1="1053.24" y1="457.85" x2="1053.24" y2="463.45" stroke="#000" stroke-width="1.45"/>
<text transform="translate(1053.24,482.7) scale(1.065,1)" text-anchor="middle" class="t" font-family="'DejaVu Sans', 'Liberation Sans', sans-serif" font-size="15.8">500</text>
<line x1="1129.43" y1="457.85" x2="1129.43" y2="463.45" stroke="#000" stroke-width="1.45"/>
<text transform="translate(1129.43,482.7) scale(1.065,1)" text-anchor="middle" class="t" font-family="'DejaVu Sans', 'Liberation Sans', sans-serif" font-size="15.8">750</text>
<line x1="1205.62" y1="457.85" x2="1205.62" y2="463.45" stroke="#000" stroke-width="1.45"/>
<text transform="translate(1205.62,482.7) scale(1.065,1)" text-anchor="middle" class="t" font-family="'DejaVu Sans', 'Liberation Sans', sans-serif" font-size="15.8">1000</text>
<line x1="1281.82" y1="457.85" x2="1281.82" y2="463.45" stroke="#000" stroke-width="1.45"/>
<text transform="translate(1281.82,482.7) scale(1.065,1)" text-anchor="middle" class="t" font-family="'DejaVu Sans', 'Liberation Sans', sans-serif" font-size="15.8">1250</text>
<line x1="1358.01" y1="457.85" x2="1358.01" y2="463.45" stroke="#000" stroke-width="1.45"/>
<text transform="translate(1358.01,482.7) scale(1.065,1)" text-anchor="middle" class="t" font-family="'DejaVu Sans', 'Liberation Sans', sans-serif" font-size="15.8">1500</text>
<line x1="1434.21" y1="457.85" x2="1434.21" y2="463.45" stroke="#000" stroke-width="1.45"/>
<text transform="translate(1434.21,482.7) scale(1.065,1)" text-anchor="middle" class="t" font-family="'DejaVu Sans', 'Liberation Sans', sans-serif" font-size="15.8">1750</text>
<line x1="1510.40" y1="457.85" x2="1510.40" y2="463.45" stroke="#000" stroke-width="1.45"/>
<text transform="translate(1510.40,482.7) scale(1.065,1)" text-anchor="middle" class="t" font-family="'DejaVu Sans', 'Liberation Sans', sans-serif" font-size="15.8">2000</text>
<line x1="895.25" y1="42.62" x2="900.85" y2="42.62" stroke="#000" stroke-width="1.45"/>
<text x="869.97" y="50.62" text-anchor="end" class="t" font-family="'DejaVu Sans', 'Liberation Sans', sans-serif" font-size="15.8">10</text><text x="870.19" y="43.71" class="t" font-family="'DejaVu Sans', 'Liberation Sans', sans-serif" font-size="11.4">−</text><text x="887.81" y="44.92" text-anchor="end" class="t" font-family="'DejaVu Sans', 'Liberation Sans', sans-serif" font-size="13.2">4</text>
<line x1="895.25" y1="94.52" x2="900.85" y2="94.52" stroke="#000" stroke-width="1.45"/>
<text x="861.57" y="102.52" text-anchor="end" class="t" font-family="'DejaVu Sans', 'Liberation Sans', sans-serif" font-size="15.8">10</text><text x="861.80" y="95.61" class="t" font-family="'DejaVu Sans', 'Liberation Sans', sans-serif" font-size="11.4">−</text><text x="887.81" y="96.82" text-anchor="end" class="t" font-family="'DejaVu Sans', 'Liberation Sans', sans-serif" font-size="13.2">16</text>
<line x1="895.25" y1="146.43" x2="900.85" y2="146.43" stroke="#000" stroke-width="1.45"/>
<text x="861.57" y="154.43" text-anchor="end" class="t" font-family="'DejaVu Sans', 'Liberation Sans', sans-serif" font-size="15.8">10</text><text x="861.80" y="147.51" class="t" font-family="'DejaVu Sans', 'Liberation Sans', sans-serif" font-size="11.4">−</text><text x="887.81" y="148.73" text-anchor="end" class="t" font-family="'DejaVu Sans', 'Liberation Sans', sans-serif" font-size="13.2">28</text>
<line x1="895.25" y1="198.33" x2="900.85" y2="198.33" stroke="#000" stroke-width="1.45"/>
<text x="861.57" y="206.33" text-anchor="end" class="t" font-family="'DejaVu Sans', 'Liberation Sans', sans-serif" font-size="15.8">10</text><text x="861.80" y="199.42" class="t" font-family="'DejaVu Sans', 'Liberation Sans', sans-serif" font-size="11.4">−</text><text x="887.81" y="200.63" text-anchor="end" class="t" font-family="'DejaVu Sans', 'Liberation Sans', sans-serif" font-size="13.2">40</text>
<line x1="895.25" y1="250.24" x2="900.85" y2="250.24" stroke="#000" stroke-width="1.45"/>
<text x="861.57" y="258.24" text-anchor="end" class="t" font-family="'DejaVu Sans', 'Liberation Sans', sans-serif" font-size="15.8">10</text><text x="861.80" y="251.32" class="t" font-family="'DejaVu Sans', 'Liberation Sans', sans-serif" font-size="11.4">−</text><text x="887.81" y="252.54" text-anchor="end" class="t" font-family="'DejaVu Sans', 'Liberation Sans', sans-serif" font-size="13.2">52</text>
<line x1="895.25" y1="302.14" x2="900.85" y2="302.14" stroke="#000" stroke-width="1.45"/>
<text x="861.57" y="310.14" text-anchor="end" class="t" font-family="'DejaVu Sans', 'Liberation Sans', sans-serif" font-size="15.8">10</text><text x="861.80" y="303.22" class="t" font-family="'DejaVu Sans', 'Liberation Sans', sans-serif" font-size="11.4">−</text><text x="887.81" y="304.44" text-anchor="end" class="t" font-family="'DejaVu Sans', 'Liberation Sans', sans-serif" font-size="13.2">64</text>
<line x1="895.25" y1="354.04" x2="900.85" y2="354.04" stroke="#000" stroke-width="1.45"/>
<text x="861.57" y="362.04" text-anchor="end" class="t" font-family="'DejaVu Sans', 'Liberation Sans', sans-serif" font-size="15.8">10</text><text x="861.80" y="355.13" class="t" font-family="'DejaVu Sans', 'Liberation Sans', sans-serif" font-size="11.4">−</text><text x="887.81" y="356.34" text-anchor="end" class="t" font-family="'DejaVu Sans', 'Liberation Sans', sans-serif" font-size="13.2">76</text>
<line x1="895.25" y1="405.95" x2="900.85" y2="405.95" stroke="#000" stroke-width="1.45"/>
<text x="861.57" y="413.95" text-anchor="end" class="t" font-family="'DejaVu Sans', 'Liberation Sans', sans-serif" font-size="15.8">10</text><text x="861.80" y="407.03" class="t" font-family="'DejaVu Sans', 'Liberation Sans', sans-serif" font-size="11.4">−</text><text x="887.81" y="408.25" text-anchor="end" class="t" font-family="'DejaVu Sans', 'Liberation Sans', sans-serif" font-size="13.2">88</text>
<line x1="895.25" y1="457.85" x2="900.85" y2="457.85" stroke="#000" stroke-width="1.45"/>
<text x="853.18" y="465.85" text-anchor="end" class="t" font-family="'DejaVu Sans', 'Liberation Sans', sans-serif" font-size="15.8">10</text><text x="853.40" y="458.93" class="t" font-family="'DejaVu Sans', 'Liberation Sans', sans-serif" font-size="11.4">−</text><text x="887.81" y="460.15" text-anchor="end" class="t" font-family="'DejaVu Sans', 'Liberation Sans', sans-serif" font-size="13.2">100</text>
<text transform="translate(1205.12,506.4) scale(1.02,1)" text-anchor="middle" class="t" font-family="'DejaVu Sans', 'Liberation Sans', sans-serif" font-size="16.6">iteration</text>
<text transform="translate(821.30,233.31) rotate(-90) scale(1.03,1)" text-anchor="middle" class="t" font-family="'DejaVu Sans', 'Liberation Sans', sans-serif" font-size="16.4">BestFitness</text>
<rect x="1312.80" y="239.10" width="189.00" height="209.30" rx="3" fill="#fff" stroke="#d4d4d4" stroke-width="1.3"/>
<line x1="1318.10" y1="252.60" x2="1349.20" y2="252.60" stroke="#FFD700" stroke-width="3.415" stroke-dasharray="12.64 5.46"/>
<polygon points="1335.90,247.60 1340.66,251.05 1338.84,256.65 1332.96,256.65 1331.14,251.05" fill="#FFD700" stroke="#FFD700" stroke-width="1.5" stroke-linejoin="miter"/>
<text x="1366.30" y="258.60" class="t" font-family="'DejaVu Sans', 'Liberation Sans', sans-serif" font-size="16.9">BAS</text>
<line x1="1318.10" y1="278.44" x2="1349.20" y2="278.44" stroke="#FF0000" stroke-width="3.415" stroke-dasharray="12.64 5.46"/>
<circle cx="1335.90" cy="278.44" r="5.00" fill="#FF0000" stroke="#FF0000" stroke-width="1.5" stroke-linejoin="miter"/>
<text x="1366.30" y="284.44" class="t" font-family="'DejaVu Sans', 'Liberation Sans', sans-serif" font-size="16.9">WOA</text>
<line x1="1318.10" y1="304.28" x2="1349.20" y2="304.28" stroke="#000000" stroke-width="3.415" stroke-dasharray="12.64 5.46"/>
<path d="M1330.20,304.28H1341.60M1335.90,298.58V309.98" stroke="#000000" stroke-width="3.42" fill="none"/>
<text x="1366.30" y="310.28" class="t" font-family="'DejaVu Sans', 'Liberation Sans', sans-serif" font-size="16.9">PSO</text>
<line x1="1318.10" y1="330.12" x2="1349.20" y2="330.12" stroke="#BF00BF" stroke-width="3.415" stroke-dasharray="12.64 5.46"/>
<rect x="1330.90" y="325.12" width="10.00" height="10.00" fill="#BF00BF" stroke="#BF00BF" stroke-width="1.5" stroke-linejoin="miter"/>
<text x="1366.30" y="336.12" class="t" font-family="'DejaVu Sans', 'Liberation Sans', sans-serif" font-size="16.9">LABAS</text>
<line x1="1318.10" y1="355.96" x2="1349.20" y2="355.96" stroke="#00FFFF" stroke-width="3.415" stroke-dasharray="12.64 5.46"/>
<polygon points="1335.90,348.89 1340.50,355.96 1335.90,363.03 1331.30,355.96" fill="#00FFFF" stroke="#00FFFF" stroke-width="1.5" stroke-linejoin="miter"/>
<text x="1366.30" y="361.96" class="t" font-family="'DejaVu Sans', 'Liberation Sans', sans-serif" font-size="16.9">IBAS</text>
<line x1="1318.10" y1="381.80" x2="1349.20" y2="381.80" stroke="#90EE90" stroke-width="3.415" stroke-dasharray="12.64 5.46"/>
<path d="M1330.90,376.80L1340.90,386.80M1330.90,386.80L1340.90,376.80" stroke="#90EE90" stroke-width="1.5" fill="none"/>
<text x="1366.30" y="387.80" class="t" font-family="'DejaVu Sans', 'Liberation Sans', sans-serif" font-size="16.9">BSAS</text>
<line x1="1318.10" y1="407.64" x2="1349.20" y2="407.64" stroke="#FFC0CB" stroke-width="3.415" stroke-dasharray="12.64 5.46"/>
<polygon points="1335.90,402.64 1330.90,412.64 1340.90,412.64" fill="#FFC0CB" stroke="#FFC0CB" stroke-width="1.5" stroke-linejoin="miter"/>
<text x="1366.30" y="413.64" class="t" font-family="'DejaVu Sans', 'Liberation Sans', sans-serif" font-size="16.9">ENBAS</text>
<line x1="1318.10" y1="433.48" x2="1349.20" y2="433.48" stroke="#008000" stroke-width="3.415" stroke-dasharray="12.64 5.46"/>
<polygon points="1335.90,425.23 1337.75,430.93 1343.75,430.93 1338.90,434.45 1340.75,440.15 1335.90,436.63 1331.05,440.15 1332.90,434.45 1328.05,430.93 1334.05,430.93" fill="#008000" stroke="#008000" stroke-width="1.5" stroke-linejoin="miter"/>
<text x="1366.30" y="439.48" class="t" font-family="'DejaVu Sans', 'Liberation Sans', sans-serif" font-size="16.9">ABSAS-CS-GSA</text>
<text x="378.5" y="576.3" text-anchor="middle" class="c" font-family="'Liberation Serif', 'Times New Roman', serif" font-size="40.8">(a) 30-dimension</text>
<text x="1187.2" y="576.3" text-anchor="middle" class="c" font-family="'Liberation Serif', 'Times New Roman', serif" font-size="40.8">(b) 50-dimension</text>
</g>
</svg>
</body></html>
